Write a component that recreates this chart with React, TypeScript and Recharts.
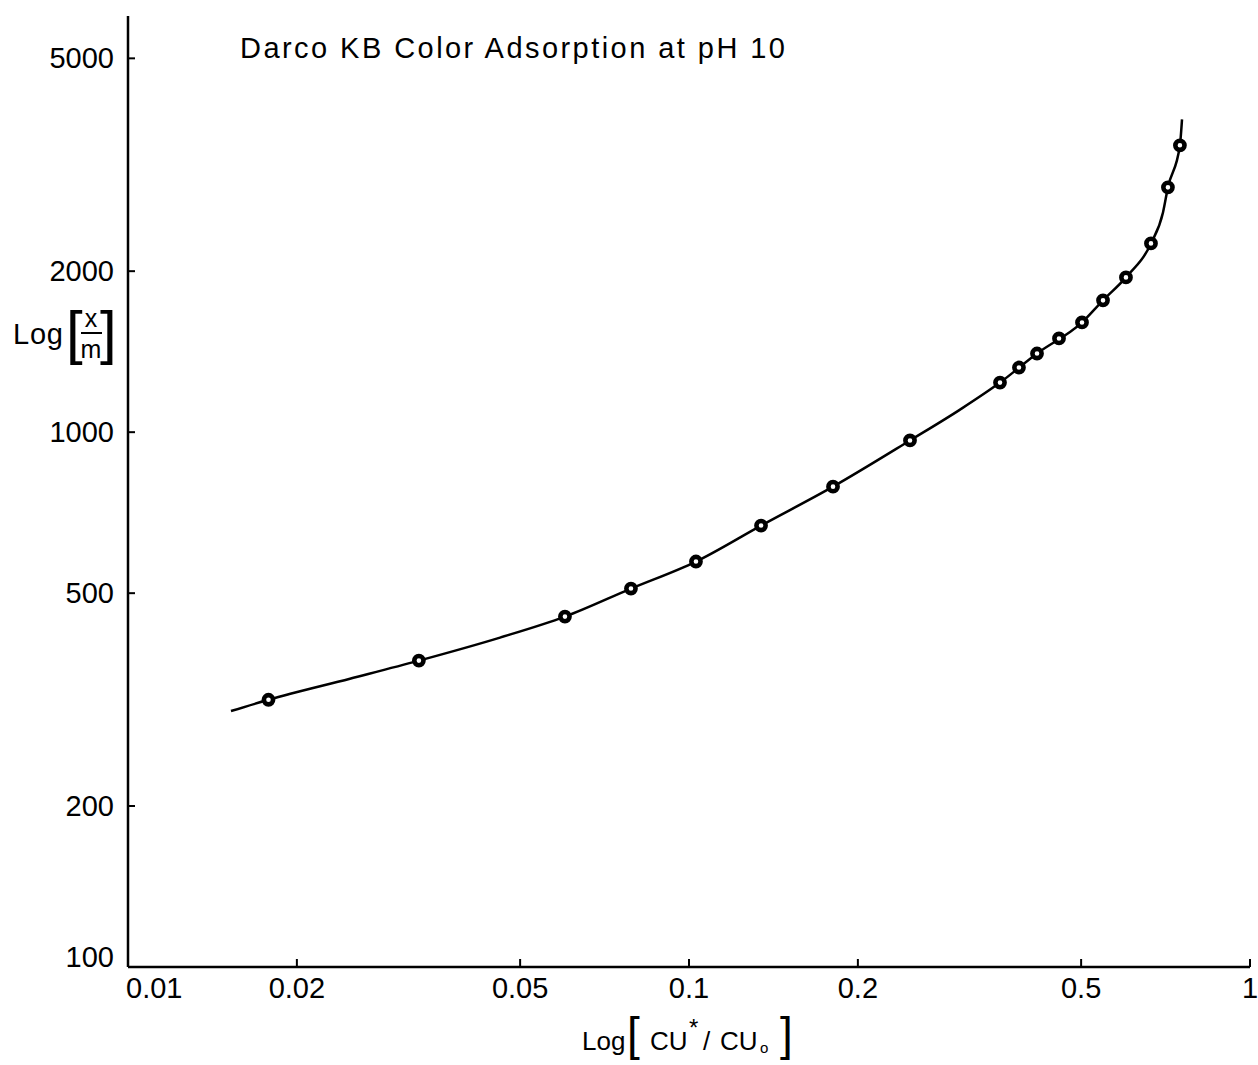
import { ComposedChart, XAxis, YAxis, Scatter, Line } from 'recharts';

// axis ticks
const xTicks = [0.01, 0.02, 0.05, 0.1, 0.2, 0.5, 1];
const xTickLabels = ['0.01', '0.02', '0.05', '0.1', '0.2', '0.5', '1'];
const yTicks = [100, 200, 500, 1000, 2000, 5000];

// measured points: CU*/CU0 vs x/m
const ratio = [0.0178, 0.033, 0.0601, 0.0788, 0.1029, 0.1344, 0.1806, 0.2477, 0.3584, 0.3874, 0.4172, 0.4566, 0.5018, 0.547, 0.601, 0.666, 0.714, 0.75];
const loading = [316, 374, 452, 510, 573, 669, 791, 965, 1238, 1321, 1403, 1497, 1604, 1764, 1947, 2254, 2869, 3439];

// fitted curve
const curveRatio = [0.01526, 0.0178, 0.02487, 0.033, 0.04604, 0.0601, 0.0788, 0.1029, 0.1344, 0.1806, 0.2477, 0.3042, 0.3584, 0.4172, 0.5018, 0.547, 0.601, 0.666, 0.6997, 0.714, 0.75, 0.7565];
const curveLoading = [301, 316, 346, 374, 413, 452, 510, 573, 669, 791, 965, 1102, 1238, 1403, 1604, 1764, 1947, 2254, 2575, 2869, 3439, 3846];

const points = ratio.map((x, i) => ({ x, y: loading[i] }));
const curve = curveRatio.map((x, i) => ({ x, y: curveLoading[i] }));

const FONT = '"Liberation Sans", Arial, sans-serif';

function YTick(props: any) {
  const { x, y, payload } = props;
  const lift = payload.value === 100 ? -10 : 0;
  return (
    <g>
      <line x1={x} y1={y} x2={x + 7} y2={y} stroke="#000" strokeWidth={2} />
      <text x={x - 14} y={y + lift} textAnchor="end" dominantBaseline="central" fontSize={29} fontFamily={FONT} fill="#000">
        {payload.value}
      </text>
    </g>
  );
}

function XTick(props: any) {
  const { x, y, payload, index } = props;
  const first = index === 0;
  return (
    <g>
      {!first && <line x1={x} y1={y} x2={x} y2={y - 8} stroke="#000" strokeWidth={2} />}
      <text x={first ? x - 2 : x} y={y + 31} textAnchor={first ? 'start' : 'middle'} fontSize={29} fontFamily={FONT} fill="#000">
        {xTickLabels[xTicks.indexOf(payload.value)]}
      </text>
    </g>
  );
}

function Ring(props: any) {
  const { cx, cy } = props;
  return <circle cx={cx} cy={cy} r={4.6} fill="#fff" stroke="#000" strokeWidth={4.6} />;
}

export default function App() {
  return (
    <div style={{ position: 'absolute', left: 0, top: 0, width: 1258, height: 1065, background: '#fff' }}>
      <ComposedChart width={1258} height={1065} margin={{ top: 16, right: 8, bottom: 0, left: 0 }}>
        <XAxis
          dataKey="x"
          type="number"
          scale="log"
          domain={[0.01, 1]}
          ticks={xTicks}
          allowDataOverflow
          height={98}
          tickSize={0}
          tickMargin={0}
          tickLine={false}
          tick={<XTick />}
          axisLine={{ stroke: '#000', strokeWidth: 2.5 }}
          interval={0}
        />
        <YAxis
          dataKey="y"
          type="number"
          scale="log"
          domain={[100, 6000]}
          ticks={yTicks}
          allowDataOverflow
          width={128}
          tickSize={0}
          tickMargin={0}
          tickLine={false}
          tick={<YTick />}
          axisLine={{ stroke: '#000', strokeWidth: 2.5 }}
          interval={0}
        />
        <Line
          data={curve}
          dataKey="y"
          type="monotone"
          stroke="#000"
          strokeWidth={2.5}
          dot={false}
          activeDot={false}
          isAnimationActive={false}
        />
        <Scatter data={points} dataKey="y" shape={<Ring />} isAnimationActive={false} />
      </ComposedChart>
      <svg width={1258} height={1065} style={{ position: 'absolute', left: 0, top: 0, pointerEvents: 'none' }}>
        <text x={240} y={58} fontSize={29} fontFamily={FONT} fill="#000" textLength={545} lengthAdjust="spacing">
          Darco KB  Color Adsorption at pH 10
        </text>
        {/* y axis title */}
        <text x={13} y={344} fontSize={29} fontFamily={FONT} fill="#000" textLength={50}>Log</text>
        <text x={66} y={353} fontSize={60} fontFamily={FONT} fill="#000">[</text>
        <text x={91} y={327} fontSize={25} fontFamily={FONT} fill="#000" textAnchor="middle">x</text>
        <line x1={81} y1={333} x2={102} y2={333} stroke="#000" strokeWidth={2} />
        <text x={91} y={358} fontSize={25} fontFamily={FONT} fill="#000" textAnchor="middle">m</text>
        <text x={100} y={353} fontSize={60} fontFamily={FONT} fill="#000">]</text>
        {/* x axis title */}
        <text x={582} y={1050} fontSize={26} fontFamily={FONT} fill="#000">Log</text>
        <text x={627} y={1050} fontSize={46} fontFamily={FONT} fill="#000">[</text>
        <text x={650} y={1050} fontSize={26} fontFamily={FONT} fill="#000">CU</text>
        <text x={689} y={1036} fontSize={24} fontFamily={FONT} fill="#000">*</text>
        <text x={703} y={1050} fontSize={26} fontFamily={FONT} fill="#000">/</text>
        <text x={720} y={1050} fontSize={26} fontFamily={FONT} fill="#000">CU</text>
        <text x={760} y={1053} fontSize={15} fontFamily={FONT} fill="#000">o</text>
        <text x={780} y={1050} fontSize={46} fontFamily={FONT} fill="#000">]</text>
      </svg>
    </div>
  );
}
